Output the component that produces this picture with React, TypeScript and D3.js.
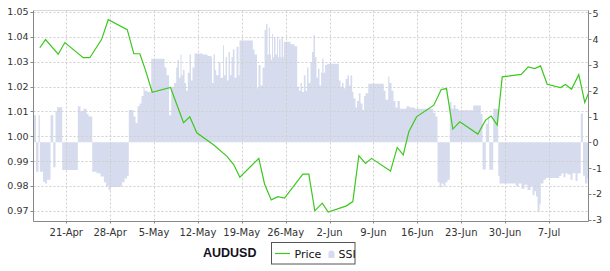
import React from "react";
import * as d3 from "d3";

// Time values are expressed as days since BASE_DATE (the 21-Apr tick)
const BASE_DATE = "2012-04-21";
const xDomainDays = [-5.22, 83.3];
const xTickDays = [0, 7, 14, 21, 28, 35, 42, 49, 56, 63, 70, 77];
const leftTicks = [0.97, 0.98, 0.99, 1.0, 1.01, 1.02, 1.03, 1.04, 1.05];
const rightTicks = [-3, -2, -1, 0, 1, 2, 3, 4, 5];
const leftDomain = [0.9657, 1.0506];
const rightDomain = [-3.07, 5.11];

const priceDays = [
  -4.21, -3.3, -1.28, -0.22, 2.71, 3.76, 5.63, 6.7, 9.73, 10.78,
  11.74, 12.65, 13.72, 16.63, 18.71, 19.71, 20.82, 23.54, 25.68, 26.73,
  27.69, 30.72, 31.63, 32.7, 33.75, 34.82, 37.74, 38.69, 39.65, 40.83,
  41.79, 44.7, 45.71, 46.67, 47.74, 48.69, 51.72, 52.79, 53.75, 54.64,
  55.87, 58.63, 59.81, 60.65, 61.66, 62.78, 65.65, 66.88, 67.78, 68.74,
  69.54, 72.57, 73.68, 74.74, 75.65, 76.71, 78.84, 79.63, 80.59, 81.75,
  82.71, 83.3,
];
const priceValues = [
  1.0356, 1.0389, 1.033, 1.0377, 1.0316, 1.0316, 1.0389, 1.0469, 1.0429, 1.0332,
  1.0332, 1.0265, 1.0177, 1.0196, 1.0055, 1.0078, 1.0014, 0.9965, 0.9918, 0.9885,
  0.9835, 0.9911, 0.9808, 0.9744, 0.9757, 0.9751, 0.9848, 0.9848, 0.97, 0.9731,
  0.9695, 0.972, 0.9737, 0.9922, 0.9891, 0.9911, 0.986, 0.9955, 0.9925, 1.0018,
  1.0078, 1.0125, 1.0188, 1.0192, 1.0029, 1.0058, 1.0009, 1.0065, 1.0081, 1.0045,
  1.0239, 1.0249, 1.0279, 1.0272, 1.0283, 1.0209, 1.0196, 1.0208, 1.0189, 1.0248,
  1.0136, 1.0173,
];

// SSI: [day, value], value held until next sample
const ssiSeries: [number, number][] = [
  [-5.22, 1.05], [-4.82, -1.14], [-4.42, 1.05], [-4.21, -1.14], [-3.7, -1.53],
  [-3.38, -1.6], [-3.06, -1.45], [-2.5, 1.05], [-2.07, -0.97], [-1.71, 1.2],
  [-1.47, 1.36], [-0.64, -1.07], [1.85, 1.4], [2.28, 1.2], [2.76, 1.3],
  [3.24, 1.1], [3.56, 1.0], [4.15, -1.14], [4.83, -1.2], [5.47, -1.33],
  [6.0, -1.55], [6.35, -1.7], [6.75, -1.86], [7.07, -1.73], [8.66, -1.7],
  [8.9, -1.55], [9.3, -1.4], [9.7, -1.3], [9.98, 1.25], [10.73, 1.0],
  [11.05, 0.75], [11.37, 1.4], [11.69, 1.5], [12.01, 1.8], [12.33, 2.15],
  [12.49, 2.0], [12.97, 1.95], [13.56, 3.24], [15.68, 2.9], [16.0, 2.6],
  [16.4, 1.05], [16.75, 2.15], [17.19, 2.3], [17.54, 2.9], [17.75, 3.2],
  [17.99, 2.5], [18.23, 3.4], [18.39, 2.6], [18.6, 2.8], [18.87, 2.3],
  [19.11, 2.0], [19.39, 2.7], [19.67, 3.4], [19.9, 2.4], [20.14, 2.9],
  [20.46, 3.44], [21.74, 3.4], [22.54, 3.35], [23.13, 3.3], [23.25, 2.3],
  [23.49, 3.4], [23.73, 2.8], [23.92, 2.6], [24.29, 3.1], [24.61, 2.5],
  [25.01, 3.76], [25.17, 2.6], [25.41, 3.3], [25.65, 2.4], [25.89, 3.5],
  [26.12, 2.6], [26.36, 3.3], [26.57, 3.6], [26.84, 2.5], [27.16, 3.7],
  [27.48, 2.6], [27.64, 3.95], [29.76, 3.6], [30.03, 3.4], [30.43, 2.1],
  [30.67, 3.0], [30.99, 2.2], [31.31, 2.9], [31.63, 4.35], [31.87, 4.6],
  [32.11, 3.4], [32.31, 4.45], [32.5, 3.4], [32.66, 3.2], [32.82, 4.2],
  [32.98, 3.3], [33.14, 4.05], [33.38, 3.4], [33.62, 4.1], [33.78, 3.3],
  [33.94, 4.0], [34.18, 3.3], [34.34, 4.1], [34.58, 3.3], [34.71, 3.9],
  [35.77, 3.8], [36.41, 3.72], [36.84, 2.15], [37.13, 2.0], [37.37, 2.3],
  [37.61, 1.95], [37.9, 2.6], [38.17, 2.0], [38.41, 2.9], [38.64, 2.3],
  [38.96, 3.1], [39.2, 3.5], [39.44, 4.15], [39.68, 3.3], [39.92, 2.5],
  [40.16, 2.85], [40.4, 2.2], [40.64, 2.7], [40.83, 3.25], [41.04, 2.7],
  [41.28, 3.0], [41.63, 3.05], [43.48, 2.4], [43.75, 2.15], [43.99, 2.3],
  [44.23, 2.1], [44.55, 2.45], [44.86, 2.6], [45.1, 2.2], [45.34, 2.6],
  [45.61, 1.95], [45.82, 1.7], [46.14, 1.35], [46.38, 1.6], [46.67, 1.9],
  [46.94, 1.5], [47.26, 1.25], [47.5, 1.8], [47.74, 1.9], [48.17, 2.27],
  [50.65, 2.0], [50.93, 1.65], [51.36, 2.55], [51.56, 2.3], [51.88, 2.0],
  [52.2, 1.6], [52.52, 1.35], [52.84, 1.6], [53.21, 1.3], [54.27, 1.4],
  [54.75, 1.35], [55.6, 1.3], [58.53, 1.15], [58.9, 1.0], [59.22, -1.55],
  [59.54, -1.75], [59.86, -1.6], [60.18, -1.7], [60.49, -1.55], [60.81, -1.45],
  [61.18, 1.56], [61.45, 1.3], [61.77, 1.45], [62.09, 1.3], [62.52, 1.24],
  [64.91, 1.43], [66.13, 1.1], [66.4, -1.05], [66.92, 0.72], [67.27, 0.95],
  [67.46, -1.06], [68.1, 1.3], [68.9, -1.3], [69.11, -1.6], [71.71, -1.7],
  [72.14, -1.6], [72.62, -1.8], [73.1, -1.65], [73.57, -1.85], [74.05, -1.7],
  [74.37, -2.05], [74.69, -1.9], [74.93, -2.1], [75.17, -2.7], [75.49, -2.4],
  [75.69, -1.6], [76.12, -1.45], [76.49, -1.38], [78.63, -1.3], [79.0, -1.2],
  [79.31, -1.35], [79.63, -1.2], [79.95, -1.25], [80.43, -1.45], [80.75, -1.2],
  [81.23, -1.5], [81.55, -1.2], [82.07, 1.12], [82.42, -1.3], [82.74, -1.6],
  [83.14, -1.4], [83.3, -1.4],
];

const TITLE = "AUDUSD";
const legendLabels = ["Price", "SSI"];

const GREEN = "#3cc81e";
const SSI_FILL = "#d6dcee";
const GRID = "#cfcfcf";
const AXIS = "#888888";
const FONT = "'DejaVu Sans', sans-serif";

export default function App() {
  const W = 610;
  const H = 271;
  const L = 33.5;
  const R = 588.5;
  const T = 10.5;
  const B = 221.5;

  const base = d3.timeParse("%Y-%m-%d")(BASE_DATE) as Date;
  const toDate = (d: number) => new Date(base.getTime() + d * 864e5);

  const x = d3.scaleTime().domain(xDomainDays.map(toDate)).range([L, R]);
  const yL = d3.scaleLinear().domain(leftDomain).range([B, T]);
  const yR = d3.scaleLinear().domain(rightDomain).range([B, T]);
  const fmt = d3.timeFormat("%-d-%b");

  const area = d3
    .area<[number, number]>()
    .x((d) => x(toDate(d[0])))
    .y0(yR(0))
    .y1((d) => yR(d[1]))
    .curve(d3.curveStepAfter);

  const line = d3
    .line<number>()
    .x((_, i) => x(toDate(priceDays[i])))
    .y((d) => yL(d));

  return (
    <svg
      width={W}
      height={H}
      style={{ position: "absolute", left: 0, top: 0, background: "#fff" }}
      fontFamily={FONT}
    >
      <rect x={0} y={0} width={W} height={H} fill="#fff" />
      <path d={area(ssiSeries) || ""} fill={SSI_FILL} />
      {/* grid */}
      {xTickDays.map((d) => (
        <line
          key={"gx" + d}
          x1={Math.round(x(toDate(d))) + 0.5}
          x2={Math.round(x(toDate(d))) + 0.5}
          y1={T}
          y2={B}
          stroke={GRID}
          strokeDasharray="2,2"
        />
      ))}
      {leftTicks.map((v) => (
        <line
          key={"gy" + v}
          x1={L}
          x2={R}
          y1={Math.round(yL(v)) + 0.5}
          y2={Math.round(yL(v)) + 0.5}
          stroke={GRID}
          strokeDasharray="2,2"
        />
      ))}
      {/* price */}
      <path d={line(priceValues) || ""} fill="none" stroke={GREEN} strokeWidth={1.2} />
      {/* frame */}
      <line x1={L} x2={R} y1={T} y2={T} stroke="#d8d8d8" />
      <line x1={L} x2={L} y1={T} y2={B} stroke={AXIS} />
      <line x1={R} x2={R} y1={T} y2={B} stroke={AXIS} />
      <line x1={L} x2={R} y1={B} y2={B} stroke={AXIS} />
      {/* left axis */}
      {leftTicks.map((v) => (
        <g key={"lt" + v}>
          <line x1={L - 3} x2={L} y1={Math.round(yL(v)) + 0.5} y2={Math.round(yL(v)) + 0.5} stroke={AXIS} />
          <text x={28.5} y={yL(v)} textAnchor="end" dominantBaseline="central" fontSize={9.5} fill="#333">
            {v.toFixed(2)}
          </text>
        </g>
      ))}
      {/* right axis */}
      {rightTicks.map((v) => (
        <g key={"rt" + v}>
          <line x1={R} x2={R + 3} y1={Math.round(yR(v)) + 0.5} y2={Math.round(yR(v)) + 0.5} stroke={AXIS} />
          <text x={592.5} y={yR(v)} textAnchor="start" dominantBaseline="central" fontSize={9.5} fill="#333">
            {String(v)}
          </text>
        </g>
      ))}
      {/* bottom axis */}
      {xTickDays.map((d) => (
        <g key={"bt" + d}>
          <line
            x1={Math.round(x(toDate(d))) + 0.5}
            x2={Math.round(x(toDate(d))) + 0.5}
            y1={B}
            y2={B + 2}
            stroke={AXIS}
          />
          <text x={x(toDate(d))} y={236} textAnchor="middle" fontSize={10} fill="#333">
            {fmt(toDate(d))}
          </text>
        </g>
      ))}
      {/* legend */}
      <text x={203} y={257} fontSize={12.5} fontWeight="bold" fontFamily="'Liberation Sans', sans-serif" fill="#111122">
        {TITLE}
      </text>
      <rect x={271.5} y={242.5} width={83.5} height={21.5} fill="#fff" stroke="#555" />
      <line x1={275} x2={290} y1={253.5} y2={253.5} stroke={GREEN} strokeWidth={1.2} />
      <text x={294.5} y={257.5} fontSize={11} fill="#111">
        {legendLabels[0]}
      </text>
      <path d="M328.5,258 L328.5,253 Q328.5,250.5 331.5,250.5 Q334.5,250.5 334.5,253 L334.5,258 Z" fill={SSI_FILL} />
      <text x={338.5} y={257.5} fontSize={11} fill="#111">
        {legendLabels[1]}
      </text>
    </svg>
  );
}
